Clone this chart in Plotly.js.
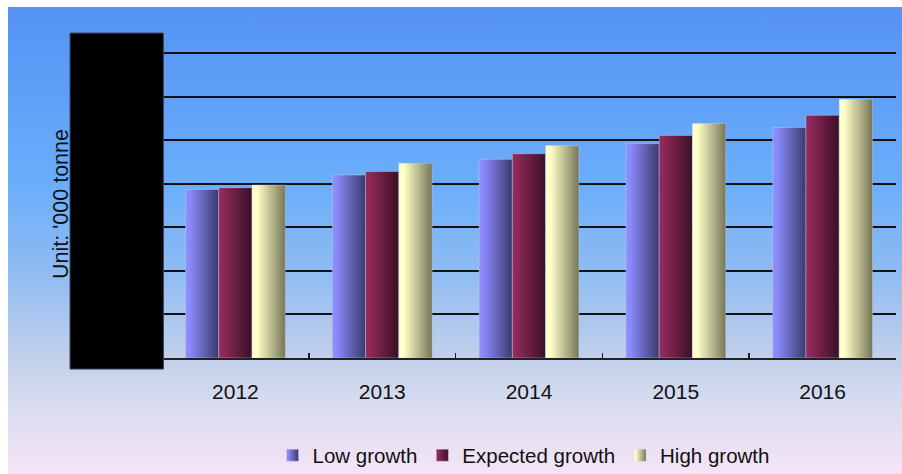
<!DOCTYPE html>
<html><head><meta charset="utf-8">
<script src="https://cdn.plot.ly/plotly-3.0.1.min.js"></script>
<style>
html,body{margin:0;padding:0;background:#fff;}
#bg{position:absolute;left:8px;top:7px;width:894px;height:467px;background:linear-gradient(to bottom,#5592f5 0%,#6aaefa 38%,#8fbcf2 57%,#c2d0ea 75%,#d6dbf0 84%,#f6e4f6 100%);}
#chart{position:absolute;left:0;top:0;width:902px;height:474px;}
</style></head><body>
<div id="bg"></div><div id="chart"></div>
<script>
const years = ['2012', '2013', '2014', '2015', '2016'];
const seriesNames = ['Low growth', 'Expected growth', 'High growth'];
const lowGrowth = [3.87, 4.20, 4.56, 4.92, 5.29];
const expectedGrowth = [3.91, 4.28, 4.69, 5.11, 5.57];
const highGrowth = [3.97, 4.47, 4.88, 5.38, 5.94];
const baseColors = ['#6c6cd8', '#6e1f46', '#d8d8a8'];
const gradStops = [
  [['0%', '#9090ff'], ['15%', '#8888f8'], ['100%', '#3a3a6c']],
  [['0%', '#922d5e'], ['15%', '#8c2858'], ['100%', '#3a1024']],
  [['0%', '#ffffd2'], ['15%', '#ffffc6'], ['100%', '#76765a']]
];

const allValues = [lowGrowth, expectedGrowth, highGrowth];
const traces = allValues.map((vals, i) => ({
  type: 'bar',
  name: seriesNames[i],
  x: years,
  y: vals,
  marker: {color: baseColors[i], line: {width: 0.6, color: 'rgba(200,210,240,0.7)'}},
  hoverinfo: 'x+y+name'
}));

const font = {family: '"Liberation Sans", Arial, sans-serif', color: '#111', size: 21};

const layout = {
  width: 902, height: 474,
  margin: {l: 162, r: 6, t: 50, b: 116, autoexpand: false},
  paper_bgcolor: 'rgba(0,0,0,0)',
  plot_bgcolor: 'rgba(0,0,0,0)',
  font: font,
  barmode: 'group',
  bargap: 0.32,
  bargroupgap: 0,
  showlegend: true,
  legend: {
    orientation: 'h', x: 0.4925, xanchor: 'center', y: -0.316, yanchor: 'middle',
    font: {family: font.family, size: 20.5, color: '#111'},
    bgcolor: 'rgba(0,0,0,0)', itemwidth: 30, tracegroupgap: 0
  },
  xaxis: {
    type: 'category',
    showline: true, linecolor: '#222', linewidth: 1.5,
    ticks: 'inside', tickson: 'boundaries', ticklen: 5, tickcolor: '#222', tickwidth: 1.5,
    ticklabelstandoff: 14,
    tickfont: {family: font.family, size: 21, color: '#111'},
    showgrid: false, zeroline: false
  },
  yaxis: {
    range: [0, 7.07], tick0: 0, dtick: 1,
    showgrid: true, gridcolor: '#111', gridwidth: 2,
    showticklabels: false, ticks: '', zeroline: false, showline: false,
    title: {text: "Unit: '000 tonne", font: {family: font.family, size: 21.5, color: '#111'}, standoff: 86}
  },
  shapes: [{
    type: 'rect', xref: 'paper', yref: 'paper',
    x0: -0.1253, x1: 0.002, y0: -0.036, y1: 1.055,
    fillcolor: '#000', line: {color: '#3a4a60', width: 1}, layer: 'above'
  }]
};

Plotly.newPlot('chart', traces, layout, {displayModeBar: false, staticPlot: true}).then(gd => {
  const svg = gd.querySelector('svg.main-svg');
  const NS = 'http://www.w3.org/2000/svg';
  let defs = svg.querySelector('defs');
  if (!defs) { defs = document.createElementNS(NS, 'defs'); svg.insertBefore(defs, svg.firstChild); }
  gradStops.forEach((stops, i) => {
    const g = document.createElementNS(NS, 'linearGradient');
    g.setAttribute('id', 'barGrad' + i);
    g.setAttribute('x1', '0'); g.setAttribute('y1', '0');
    g.setAttribute('x2', '1'); g.setAttribute('y2', '0');
    stops.forEach(([off, col]) => {
      const s = document.createElementNS(NS, 'stop');
      s.setAttribute('offset', off); s.setAttribute('stop-color', col);
      g.appendChild(s);
    });
    defs.appendChild(g);
  });
  gd.querySelectorAll('g.trace.bars').forEach((tg, i) => {
    tg.querySelectorAll('g.point path').forEach(p => { p.style.fill = 'url(#barGrad' + i + ')'; });
  });
  gd.querySelectorAll('.legend g.traces').forEach((tg, i) => {
    tg.querySelectorAll('.legendpoints path').forEach(p => { p.style.fill = 'url(#barGrad' + i + ')'; });
  });
});
</script>
</body></html>
